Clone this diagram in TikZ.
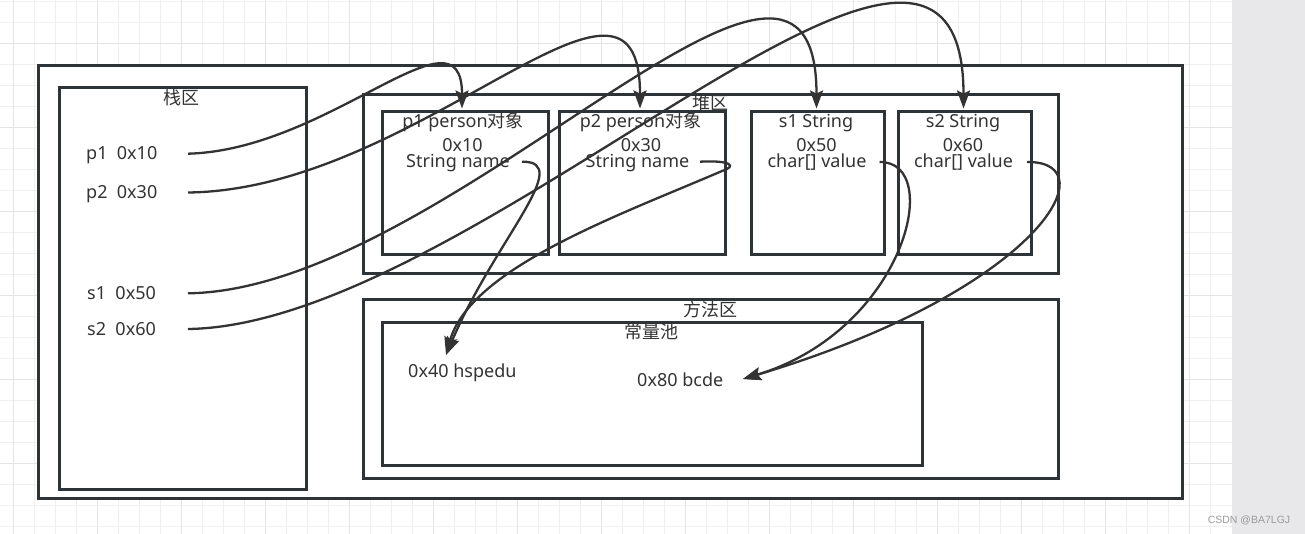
\documentclass[tikz,border=0pt]{standalone}
\usepackage{fontspec}
\setmainfont{Noto Sans}
\newfontfamily\cjk{Noto Sans CJK SC}
\newfontfamily\wmfont{Liberation Sans}
\usetikzlibrary{arrows.meta}
\definecolor{boxc}{HTML}{2E3338}
\definecolor{linec}{HTML}{333333}
\definecolor{txt}{HTML}{333333}
\definecolor{gridminor}{HTML}{EFEFEF}
\definecolor{gridmajor}{HTML}{E4E4E4}
\definecolor{sidebar}{HTML}{E8E8EA}
\definecolor{wm}{HTML}{9A9A9A}
\begin{document}
\begin{tikzpicture}[x=1pt,y=-1pt,
  region/.style={draw=boxc,line width=2.6pt,fill=white,rectangle,inner sep=0pt,anchor=north west},
  lbl/.style={text=txt,font=\fontsize{18}{18}\selectfont,inner sep=0pt},
  zh/.style={lbl,font=\fontsize{18}{18}\selectfont\cjk,anchor=center},
  conn/.style={draw=linec,line width=2.3pt,-{Stealth[length=18pt,width=13pt,inset=3pt]}},
]
\useasboundingbox (0,0) rectangle (1305,534);
\fill[white] (0,0) rectangle (1305,534);
% grid
\foreach \gx in {13.3,34.3,...,1231} \draw[gridminor,line width=1pt] (\gx,0) -- (\gx,534);
\foreach \gy in {1.3,22.3,...,534} \draw[gridminor,line width=1pt] (0,\gy) -- (1232,\gy);
\foreach \gx in {13.3,97.3,...,1231} \draw[gridmajor,line width=1.4pt] (\gx,0) -- (\gx,534);
\foreach \gy in {43.3,127.3,...,534} \draw[gridmajor,line width=1.4pt] (0,\gy) -- (1232,\gy);
\fill[sidebar] (1232,0) rectangle (1305,534);
\node[text=wm,font=\wmfont\fontsize{10.5}{10.5}\selectfont,inner sep=0pt] (wmark) at (1249,520) {CSDN @BA7LGJ};

% regions
\node[region,minimum width=1144pt,minimum height=433pt] (outer) at (37,64) {};
\node[region,minimum width=247pt,minimum height=402pt] (stack) at (58,86) {};
\node[region,minimum width=695pt,minimum height=179pt] (heap) at (362,93) {};
\node[region,minimum width=166pt,minimum height=143pt] (p1box) at (381,110) {};
\node[region,minimum width=166pt,minimum height=143pt] (p2box) at (558,110) {};
\node[region,minimum width=133pt,minimum height=143pt] (s1box) at (750,110) {};
\node[region,minimum width=133pt,minimum height=143pt] (s2box) at (897,110) {};
\node[region,minimum width=695pt,minimum height=179pt] (method) at (362,298) {};
\node[region,minimum width=540pt,minimum height=143pt] (pool) at (381,321) {};

% region labels
\node[zh] (stacklbl) at (181,98) {栈区};
\node[zh] (heaplbl) at (710,103) {堆区};
\node[zh] (methodlbl) at (710,310) {方法区};
\node[zh] (poollbl) at (651,332) {常量池};

% stack entries
\node[lbl,anchor=base west] (sp1) at (86,159.5) {p1~~0x10};
\node[lbl,anchor=base west] (sp2) at (86,198.5) {p2~~0x30};
\node[lbl,anchor=base west] (ss1) at (87,300) {s1~~0x50};
\node[lbl,anchor=base west] (ss2) at (87,335.5) {s2~~0x60};

% object boxes text
\node[lbl,anchor=base] (p1a) at (463,128) {p1 person{\cjk 对象}};
\node[lbl,anchor=base] (p1b) at (462.5,151.5) {0x10};
\node[lbl,anchor=base] (p1n) at (458,168) {String name};
\node[lbl,anchor=base] (p2a) at (640.5,128) {p2 person{\cjk 对象}};
\node[lbl,anchor=base] (p2b) at (641,151.5) {0x30};
\node[lbl,anchor=base] (p2n) at (637.5,168) {String name};
\node[lbl,anchor=base] (s1a) at (816,128) {s1 String};
\node[lbl,anchor=base] (s1b) at (816.5,151.5) {0x50};
\node[lbl,anchor=base] (s1n) at (817,168) {char[] value};
\node[lbl,anchor=base] (s2a) at (963,128) {s2 String};
\node[lbl,anchor=base] (s2b) at (963,151.5) {0x60};
\node[lbl,anchor=base] (s2n) at (963.5,168) {char[] value};

% constant pool
\node[lbl,anchor=base west] (h40) at (408,377.5) {0x40 hspedu};
\node[lbl,anchor=base west] (b80) at (637,386) {0x80 bcde};

% connector end points
\coordinate (p1src) at (188,153.7);
\coordinate (p2src) at (188,192.5);
\coordinate (s1src) at (188,293.3);
\coordinate (s2src) at (188,329);
\coordinate (p1tip) at (462,108.5);
\coordinate (p2tip) at (640,108.5);
\coordinate (s1tip) at (816.5,108.5);
\coordinate (s2tip) at (963.5,108.5);
\coordinate (p1nsrc) at (522,161.7);
\coordinate (p2nsrc) at (700,161.7);
\coordinate (s1nsrc) at (879.5,162);
\coordinate (s2nsrc) at (1027,162);
\coordinate (htip) at (446,355);
\coordinate (btip) at (743,379);

% stack -> heap
\draw[conn] (p1src) .. controls (330,150) and (462,0) .. (p1tip);
\draw[conn] (p2src) .. controls (420,190) and (640,-80) .. (p2tip);
\draw[conn] (s1src) .. controls (450,290) and (816.5,-155) .. (s1tip);
\draw[conn] (s2src) .. controls (480,325) and (963.5,-205) .. (s2tip);
% heap -> constant pool
\draw[conn] (p1nsrc) .. controls (575,161) and (495,240) .. (htip);
\draw[conn] (p2nsrc) .. controls (730,160) and (738,166) .. (722,171)
  .. controls (620,215) and (470,268) .. (htip);
\draw[conn] (s1nsrc) .. controls (945,161) and (905,330) .. (btip);
\draw[conn] (s2nsrc) .. controls (1110,161) and (1040,290) .. (btip);
\end{tikzpicture}
\end{document}
